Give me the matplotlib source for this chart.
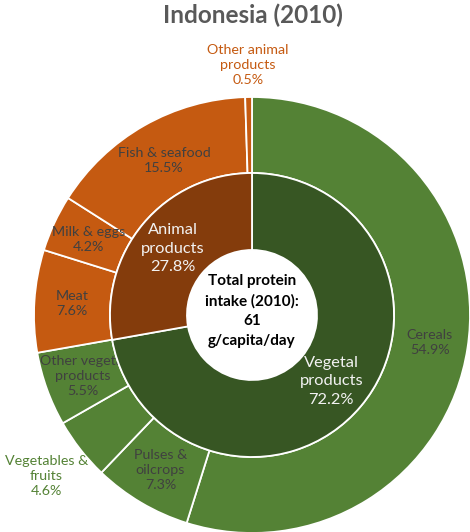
import numpy as np
import matplotlib
matplotlib.use("Agg")
import matplotlib.pyplot as plt

plt.rcParams['font.family'] = ['Lato', 'DejaVu Sans']

title = "Indonesia (2010)"
center_text = "Total protein\nintake (2010):\n61\ng/capita/day"

outer_labels = ["Cereals", "Pulses &\noilcrops", "Vegetables &\nfruits", "Other vegetal\nproducts",
                "Meat", "Milk & eggs", "Fish & seafood", "Other animal\nproducts"]
outer_values = [54.9, 7.3, 4.6, 5.5, 7.6, 4.2, 15.5, 0.5]
outer_group = ["veg", "veg", "veg", "veg", "ani", "ani", "ani", "ani"]

inner_labels = ["Vegetal\nproducts", "Animal\nproducts"]
inner_values = [72.2, 27.8]
inner_group = ["veg", "ani"]

# layout
W, H = 470, 532
cx, cy = 252, H - 315
R_out, R_mid, R_in = 218, 142, 65
outer_label_r = [180, 180, 261, 180, 180, 180, 178, 250]
outer_label_outside = [False, False, True, False, False, False, False, True]

ring_col = {"veg": "#548235", "ani": "#C55A11"}
inner_col = {"veg": "#375623", "ani": "#843C0C"}

fig = plt.figure(figsize=(W / 100, H / 100), dpi=100)
ax = fig.add_axes([0, 0, 1, 1])

wo, _ = ax.pie(outer_values, radius=R_out, center=(cx, cy), startangle=90, counterclock=False,
               colors=[ring_col[g] for g in outer_group],
               wedgeprops=dict(width=R_out - R_mid, edgecolor="white", linewidth=1.3), frame=True)
for w in wo:
    w.set_zorder(1)

# outer labels
for w, lab, v, r, outside, g in zip(wo, outer_labels, outer_values, outer_label_r, outer_label_outside, outer_group):
    ang = np.deg2rad((w.theta1 + w.theta2) / 2)
    x = cx + r * np.cos(ang)
    y = cy + r * np.sin(ang)
    col = ring_col[g] if outside else "#404040"
    ax.text(x, y, f"{lab}\n{v:.1f}%", ha="center", va="center", fontsize=10.3,
            color=col, zorder=2, linespacing=1.33)

wi, _ = ax.pie(inner_values, radius=R_mid, center=(cx, cy), startangle=90, counterclock=False,
               colors=[inner_col[g] for g in inner_group],
               wedgeprops=dict(width=R_mid - R_in, edgecolor="white", linewidth=1.3), frame=True)
for w in wi:
    w.set_zorder(3)
for w, lab, v in zip(wi, inner_labels, inner_values):
    ang = np.deg2rad((w.theta1 + w.theta2) / 2)
    r = (R_mid + R_in) / 2
    ax.text(cx + r * np.cos(ang), cy + r * np.sin(ang), f"{lab}\n{v:.1f}%", ha="center", va="center",
            fontsize=11.8, color="#F2F2F2", zorder=4, linespacing=1.4)

ax.text(cx, cy + 4, center_text, ha="center", va="center", fontsize=11, fontweight="bold",
        color="black", zorder=4, linespacing=1.52)

ax.text(W / 2 + 18, H - 15, title, ha="center", va="center", fontsize=17.5, fontweight="bold", color="#595959")

ax.set_xlim(0, W)
ax.set_ylim(0, H)
ax.set_aspect("equal")
ax.axis("off")

fig.savefig("out.png", dpi=100)
